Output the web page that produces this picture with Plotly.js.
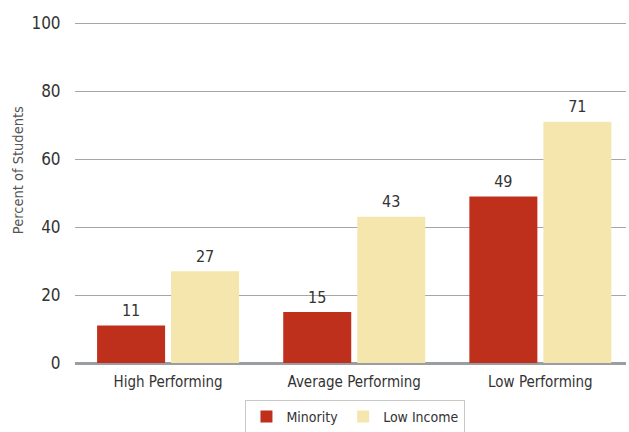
<!DOCTYPE html>
<html>
<head>
<meta charset="utf-8">
<script src="https://cdn.plot.ly/plotly-3.0.1.min.js"></script>
<style>html,body{margin:0;padding:0;background:#fff;}#chart{width:629px;height:432px;}</style>
</head>
<body>
<div id="chart"></div>
<script>
const categories = ["High Performing", "Average Performing", "Low Performing"];
const minority = [11, 15, 49];
const lowIncome = [27, 43, 71];
const yTicks = [0, 20, 40, 60, 80, 100];
const seriesNames = ["Minority", "Low Income"];

const FONT = '"Liberation Sans Narrow", "DejaVu Sans Condensed", "Arial Narrow", sans-serif';
const GAP = 0.205;

function bar(name, vals, color) {
  return {
    type: 'bar', name: name, x: categories, y: vals,
    marker: {color: color}, hoverinfo: 'skip'
  };
}
function labels(name, vals) {
  return {
    type: 'scatter', mode: 'markers+text', name: name + ' labels', showlegend: false,
    x: categories, y: vals, text: vals.map(String), textposition: 'top center',
    marker: {size: 7, color: 'rgba(0,0,0,0)'}, cliponaxis: false,
    textfont: {family: FONT, size: 16, color: '#333333'}, hoverinfo: 'skip'
  };
}

const traces = [
  bar(seriesNames[0], minority, '#BF301C'),
  bar(seriesNames[1], lowIncome, '#F5E6AE'),
  labels(seriesNames[0], minority),
  labels(seriesNames[1], lowIncome)
];

const layout = {
  width: 629, height: 432,
  margin: {l: 75, r: 3, t: 19, b: 69, autoexpand: false},
  paper_bgcolor: '#ffffff', plot_bgcolor: '#ffffff',
  font: {family: FONT, color: '#333333'},
  barmode: 'group', bargap: GAP, bargroupgap: 0.081,
  scattermode: 'group', scattergap: GAP,
  showlegend: true,
  legend: {
    orientation: 'h', x: 0.509, xanchor: 'center', y: -0.107, yanchor: 'top',
    bordercolor: '#c8c8c8', borderwidth: 1, bgcolor: '#ffffff',
    font: {family: FONT, size: 14, color: '#333333'}
  },
  xaxis: {
    type: 'category', range: [-0.5, 2.46],
    showgrid: false, zeroline: false, showline: false,
    ticks: 'outside', ticklen: 5, tickcolor: 'rgba(0,0,0,0)',
    tickfont: {family: FONT, size: 15, color: '#333333'}
  },
  yaxis: {
    range: [0, 101.2], tickvals: yTicks,
    showgrid: true, gridcolor: '#a3a7ab', gridwidth: 1,
    zeroline: true, zerolinecolor: '#9a9ea2', zerolinewidth: 3,
    showline: false,
    ticks: 'outside', ticklen: 10, tickcolor: 'rgba(0,0,0,0)',
    tickfont: {family: FONT, size: 17, color: '#333333'}
  },
  annotations: [{
    text: 'Percent of Students', textangle: -90,
    xref: 'paper', yref: 'paper', x: -0.102, y: 0.56, xanchor: 'center', yanchor: 'middle',
    showarrow: false, font: {family: FONT, size: 14.5, color: '#555555'}
  }]
};

Plotly.newPlot('chart', traces, layout, {displayModeBar: false, staticPlot: true});
</script>
</body>
</html>
